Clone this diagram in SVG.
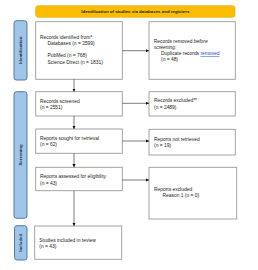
<svg xmlns="http://www.w3.org/2000/svg" width="258" height="270" viewBox="0 0 258 270">
<defs>
<marker id="ah" viewBox="0 0 6 6" refX="6" refY="3" markerWidth="3.2" markerHeight="3.2" orient="auto" markerUnits="userSpaceOnUse">
<path d="M0,0 L6,3 L0,6 z" fill="#111"/>
</marker>
<style>
.box{fill:#fff;stroke:#9a9a9a;stroke-width:0.9}
.side{fill:#9fc5e8;stroke:#4a6e96;stroke-width:0.9}
.banner{fill:#fbbc04;stroke:#e0a800;stroke-width:0.6}
.t{font-family:"Liberation Sans",Arial,sans-serif;font-size:4.9px;fill:#222}
.bt{font-family:"Liberation Sans",Arial,sans-serif;font-size:4.4px;font-weight:bold;fill:#222}
.st{font-family:"Liberation Sans",Arial,sans-serif;font-size:4.4px;font-weight:bold;fill:#1f2d3d}
.c{stroke:#222;stroke-width:0.6;fill:none;marker-end:url(#ah)}
</style>
</defs>
<g id="banner">
<rect class="banner" x="35.7" y="5.7" width="199.3" height="11.6" rx="2.5"/>
<text class="bt" x="135.3" y="13.1" text-anchor="middle">Identification of studies via databases and registers</text>
</g>
<g id="side-identification">
<rect class="side" x="14" y="20.7" width="13" height="59.3" rx="2.5"/>
<text class="st" transform="translate(22.1,50.3) rotate(-90)" text-anchor="middle">Identification</text>
</g>
<g id="side-screening">
<rect class="side" x="14" y="91.7" width="13" height="126.6" rx="2.5"/>
<text class="st" transform="translate(22.1,155) rotate(-90)" text-anchor="middle">Screening</text>
</g>
<g id="side-included">
<rect class="side" x="14.5" y="225.7" width="12.5" height="34.3" rx="2.5"/>
<text class="st" transform="translate(22.3,242.8) rotate(-90)" text-anchor="middle">Included</text>
</g>
<g id="records-identified">
<rect class="box" x="35.7" y="21.7" width="86.6" height="57.6"/>
<text class="t" x="40" y="39">Records identified from*:</text>
<text class="t" x="47.5" y="45.4">Databases (n = 2599)</text>
<text class="t" x="47.5" y="57.3">PubMed (n = 768)</text>
<text class="t" x="47.5" y="63.5">Science Direct (n = 1831)</text>
</g>
<g id="records-removed">
<rect class="box" x="149" y="21.7" width="86.3" height="57.6"/>
<text class="t" x="153.8" y="43.4">Records removed <tspan font-style="italic">before</tspan></text>
<text class="t" x="153.8" y="48.6" font-style="italic">screening:</text>
<text class="t" x="161" y="55.2">Duplicate records <tspan text-decoration="underline" fill="#1a4fb5">removed</tspan></text>
<text class="t" x="161" y="61.2">(n = 48)</text>
</g>
<g id="records-screened">
<rect class="box" x="35.7" y="91.7" width="86.6" height="24.3"/>
<text class="t" x="40" y="102.5">Records screened</text>
<text class="t" x="40" y="108.8">(n = 2551)</text>
</g>
<g id="records-excluded">
<rect class="box" x="149" y="91.7" width="86.3" height="24.3"/>
<text class="t" x="154" y="102.1">Records excluded**</text>
<text class="t" x="154" y="108.5">(n = 2489)</text>
</g>
<g id="reports-sought">
<rect class="box" x="35.7" y="129" width="86.6" height="24.3"/>
<text class="t" x="40" y="140.1">Reports sought for retrieval</text>
<text class="t" x="40" y="146.2">(n = 62)</text>
</g>
<g id="reports-not-retrieved">
<rect class="box" x="149" y="129.3" width="86.3" height="25.7"/>
<text class="t" x="154" y="140.6">Reports not retrieved</text>
<text class="t" x="154" y="146.8">(n = 19)</text>
</g>
<g id="reports-assessed">
<rect class="box" x="35.7" y="167.3" width="86.6" height="23.4"/>
<text class="t" x="40" y="177.8">Reports assessed for eligibility</text>
<text class="t" x="40" y="184.5">(n = 43)</text>
</g>
<g id="reports-excluded">
<rect class="box" x="149" y="167.3" width="87.7" height="51.7"/>
<text class="t" x="154" y="190.8">Reports excluded:</text>
<text class="t" x="162.5" y="197.4">Reason 1 (n = 0)</text>
</g>
<g id="studies-included">
<rect class="box" x="34.7" y="226" width="87" height="33.3"/>
<text class="t" x="39.3" y="241.8">Studies included in review</text>
<text class="t" x="39.3" y="247.9">(n = 43)</text>
</g>
<g id="connectors">
<line class="c" x1="122.3" y1="50.7" x2="149" y2="50.7"/>
<line class="c" x1="74" y1="79.3" x2="74" y2="91.7"/>
<line class="c" x1="122.3" y1="103.3" x2="149" y2="103.3"/>
<line class="c" x1="74" y1="116" x2="74" y2="129"/>
<line class="c" x1="122.3" y1="141" x2="149" y2="141"/>
<line class="c" x1="74" y1="153.3" x2="74" y2="167.3"/>
<line class="c" x1="122.3" y1="180" x2="149" y2="180"/>
<line class="c" x1="74" y1="190.7" x2="74" y2="226"/>
</g>
</svg>
